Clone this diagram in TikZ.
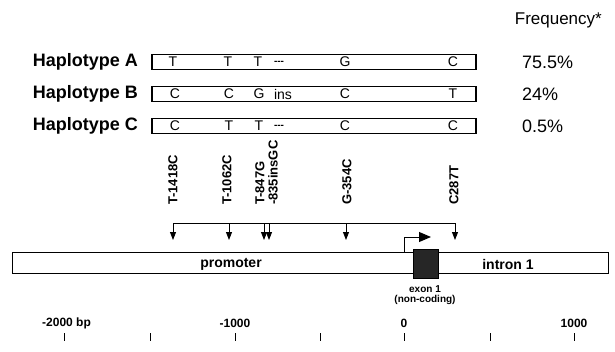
\documentclass[tikz,border=0pt]{standalone}
\usepackage{fontspec}
\setmainfont{Liberation Sans}
\usetikzlibrary{arrows.meta}
\begin{document}
\begin{tikzpicture}[x=1pt,y=-1pt,
  hlabel/.style={font=\fontsize{18}{20}\selectfont\bfseries, anchor=east, inner sep=0pt},
  hbox/.style={draw, line width=1.1pt, minimum width=324pt, minimum height=15pt, inner sep=0pt},
  base/.style={font=\fontsize{14}{15}\selectfont, inner sep=0pt},
  gap/.style={font=\fontsize{10}{11}\selectfont\bfseries, inner sep=0pt},
  freq/.style={font=\fontsize{18}{20}\selectfont, anchor=west, inner sep=0pt},
  mut/.style={font=\fontsize{13}{14}\selectfont\bfseries, rotate=90, anchor=west, inner sep=0pt},
  snp/.style={-{Triangle[width=6pt,length=8pt]}, line width=0.9pt},
  region/.style={font=\fontsize{14}{16}\selectfont\bfseries, inner sep=0pt},
  small/.style={font=\fontsize{10}{11}\selectfont\bfseries, inner sep=0pt},
  scalelab/.style={font=\fontsize{12}{13}\selectfont\bfseries, inner sep=0pt},
  tick/.style={line width=1pt}
]
\useasboundingbox (0,0) rectangle (615,351);

% header
\node[font=\fontsize{17}{19}\selectfont, anchor=east, inner sep=0pt] (freqhead) at (602,20) {Frequency*};

% haplotype rows
\foreach \r/\y/\f in {A/62/75.5\%, B/94/24\%, C/126/0.5\%}{
  \node[hlabel] (lab\r) at (138,\y) {Haplotype \r};
  \node[hbox] (box\r) at (314,\y) {};
  \node[freq] (freq\r) at (522,\y) {\f};
}
% row A
\node[base] (a1) at (173,62) {T};
\node[base] (a2) at (228,62) {T};
\node[base] (a3) at (258,62) {T};
\node[gap]  (a4) at (279,63) {-{}-{}-};
\node[base] (a5) at (345,62) {G};
\node[base] (a6) at (453,62) {C};
% row B
\node[base] (b1) at (175,94) {C};
\node[base] (b2) at (229,94) {C};
\node[base] (b3) at (259,94) {G};
\node[base] (b4) at (283,94) {ins};
\node[base] (b5) at (345,94) {C};
\node[base] (b6) at (453,94) {T};
% row C
\node[base] (c1) at (175,126) {C};
\node[base] (c2) at (229,126) {T};
\node[base] (c3) at (259,126) {T};
\node[gap]  (c4) at (279,127) {-{}-{}-};
\node[base] (c5) at (345,126) {C};
\node[base] (c6) at (453,126) {C};

% mutation labels
\node[mut] (m1) at (173,205) {T-1418C};
\node[mut] (m2) at (227,205) {T-1062C};
\node[mut] (m3) at (260,205) {T-847G};
\node[mut] (m4) at (273,205) {-835insGC};
\node[mut] (m5) at (347,205) {G-354C};
\node[mut] (m6) at (454,205) {C287T};

% snp line and arrows
\foreach \i/\x in {1/173,2/229,3/264,4/269,5/346,6/455}{
  \coordinate (s\i) at (\x,223);
  \coordinate (t\i) at (\x,240);
}
\draw[line width=0.8pt] (s1) -- (s6);
\foreach \i in {1,...,6}{ \draw[snp] (s\i) -- (t\i); }

% gene
\node[draw, line width=1pt, minimum width=596pt, minimum height=21pt, inner sep=0pt] (gene) at (310,263) {};
\node[draw, line width=1pt, fill=black!85, minimum width=25pt, minimum height=29pt, inner sep=0pt] (exon) at (425.5,263.5) {};
\node[region] (prom) at (231,264) {promoter};
\node[region] (intron) at (508,264) {intron 1};
\node[small] (exonlab) at (425,289) {exon 1};
\node[small] (exonlab2) at (425,300) {(non-coding)};

% transcription start arrow
\coordinate (tss) at (404,252);
\coordinate (tssend) at (431,237);
\draw[line width=1pt, -{Triangle[width=10pt,length=12pt]}] (tss) |- (tssend);

% scale
\foreach \i/\x in {1/64,2/150,3/235,4/320,5/404,6/490,7/574}{
  \coordinate (k\i) at (\x,333);
  \coordinate (kk\i) at (\x,341);
  \draw[tick] (k\i) -- (kk\i);
}
\node[scalelab, anchor=west] (sc1) at (42,323) {-2000 bp};
\node[scalelab] (sc2) at (235,323) {-1000};
\node[scalelab] (sc3) at (404,323) {0};
\node[scalelab] (sc4) at (574,323) {1000};
\end{tikzpicture}
\end{document}
